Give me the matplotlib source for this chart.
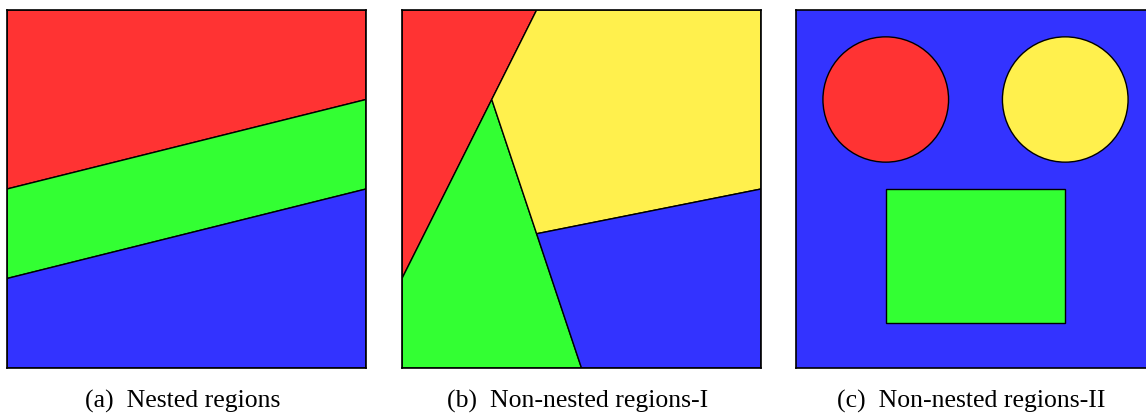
import matplotlib
matplotlib.use("Agg")
import matplotlib.pyplot as plt
from matplotlib.patches import Polygon, Circle, Rectangle

# colours of the regions
RED = "#ff3333"
GREEN = "#33ff33"
BLUE = "#3333ff"
YELLOW = "#fff04d"

# panel (a): nested regions, unit square
a_red = [(0, 1), (1, 1), (1, 0.75), (0, 0.5)]
a_green = [(0, 0.5), (1, 0.75), (1, 0.5), (0, 0.25)]
a_blue = [(0, 0.25), (1, 0.5), (1, 0), (0, 0)]

# panel (b): non-nested regions I
b_red = [(0, 1), (0.375, 1), (0.25, 0.75), (0, 0.25)]
b_green = [(0, 0.25), (0.25, 0.75), (0.375, 0.375), (0.5, 0), (0, 0)]
b_yellow = [(0.375, 1), (1, 1), (1, 0.5), (0.375, 0.375), (0.25, 0.75)]
b_blue = [(0.375, 0.375), (1, 0.5), (1, 0), (0.5, 0)]

# panel (c): non-nested regions II
c_circle_centres = [(0.25, 0.75), (0.75, 0.75)]
c_circle_radius = 0.175
c_circle_colors = [RED, YELLOW]
c_rect_corner = (0.25, 0.125)
c_rect_size = (0.5, 0.375)

captions = ["(a)  Nested regions", "(b)  Non-nested regions-I", "(c)  Non-nested regions-II"]

W, H = 1146, 415
fig = plt.figure(figsize=(W / 100, H / 100), dpi=100)

# panel boxes in pixels (left, top), size 359 x 358
lefts = [7, 402, 796]
top, pw, ph = 10, 359, 358

axes = []
for lx in lefts:
    ax = fig.add_axes([lx / W, (H - top - ph) / H, pw / W, ph / H])
    ax.set_xlim(0, 1)
    ax.set_ylim(0, 1)
    ax.set_xticks([])
    ax.set_yticks([])
    for sp in ax.spines.values():
        sp.set_linewidth(1.2)
        sp.set_zorder(10)
    axes.append(ax)

lw = 1.0

ax = axes[0]
for pts, col in [(a_red, RED), (a_green, GREEN), (a_blue, BLUE)]:
    ax.add_patch(Polygon(pts, closed=True, facecolor=col, edgecolor="black", lw=lw))

ax = axes[1]
for pts, col in [(b_red, RED), (b_green, GREEN), (b_yellow, YELLOW), (b_blue, BLUE)]:
    ax.add_patch(Polygon(pts, closed=True, facecolor=col, edgecolor="black", lw=lw))

ax = axes[2]
ax.set_facecolor(BLUE)
for (cx, cy), col in zip(c_circle_centres, c_circle_colors):
    ax.add_patch(Circle((cx, cy), c_circle_radius, facecolor=col, edgecolor="black", lw=lw))
ax.add_patch(Rectangle(c_rect_corner, *c_rect_size, facecolor=GREEN, edgecolor="black", lw=lw))

for lx, cap in zip(lefts, captions):
    fig.text((lx + pw / 2 - 4) / W, (H - 408) / H, cap, ha="center", va="baseline",
             fontsize=18.5, family="Liberation Serif")

fig.savefig("out.png", dpi=100)
